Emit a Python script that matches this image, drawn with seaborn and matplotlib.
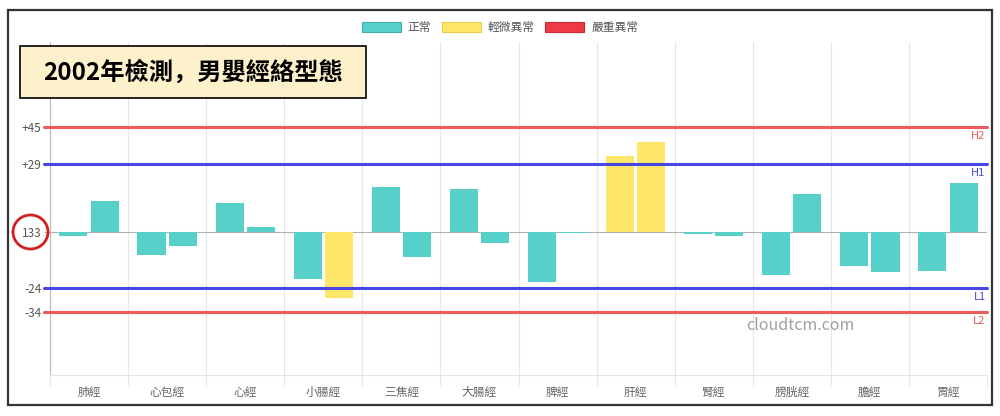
import matplotlib
matplotlib.use("Agg")
import matplotlib.pyplot as plt
from matplotlib.patches import Rectangle, Ellipse, Patch
import matplotlib.transforms as mtransforms
import numpy as np
import pandas as pd
import seaborn as sns

sns.set_theme(style="white")
plt.rcParams["font.family"] = ["Noto Sans CJK TC", "DejaVu Sans"]

# relative to the baseline value 133
meridians = ["肺經", "心包經", "心經", "小腸經", "三焦經", "大腸經",
             "脾經", "肝經", "腎經", "膀胱經", "膽經", "胃經"]
left_vals = [-1.7, -9.8, 12.2, -20.1, 19.1, 18.2, -21.5, 32.5, -0.7, -18.2, -14.7, -16.5]
right_vals = [13.2, -6.0, 2.3, -28.4, -10.6, -4.9, -0.6, 38.4, -1.7, 16.1, -17.1, 20.8]

baseline = 133
limits = {"H2": 45, "H1": 29, "L1": -24, "L2": -34}
ytick_vals = [45, 29, 0, -24, -34]
ytick_labels = ["+45", "+29", str(baseline), "-24", "-34"]

status_names = ["正常", "輕微異常", "嚴重異常"]
status_colors = ["#56d0c8", "#fee768", "#ee3a45"]
status_edges = ["#3fb3ab", "#e8cc50", "#c82a33"]
RED_LINE = "#ee5a5a"
BLUE_LINE = "#4646e4"


def status_of(v):
    if v > limits["H2"] or v < limits["L2"]:
        return 2
    if v > limits["H1"] or v < limits["L1"]:
        return 1
    return 0


df = pd.DataFrame({
    "meridian": meridians * 2,
    "side": ["左"] * len(meridians) + ["右"] * len(meridians),
    "value": left_vals + right_vals,
})

fig = plt.figure(figsize=(10, 4.16), dpi=100)
ax = fig.add_axes([0.05, 0.0986, 0.937, 0.8005])

sns.barplot(data=df, x="meridian", y="value", hue="side", order=meridians,
            hue_order=["左", "右"], dodge=True, width=0.8, gap=0.1,
            errorbar=None, legend=False, ax=ax, zorder=3)

for container, vals in zip(ax.containers, [left_vals, right_vals]):
    for bar, v in zip(container, vals):
        bar.set_facecolor(status_colors[status_of(v)])
        bar.set_edgecolor("none")

ax.set_xlim(-0.5, len(meridians) - 0.5)
ax.set_ylim(-61.1, 81.2)
ax.set_xlabel("")
ax.set_ylabel("")

# vertical grid on category boundaries
ax.set_xticks(np.arange(-0.5, len(meridians), 1), minor=True)
ax.grid(which="minor", axis="x", color="#e6e6e6", lw=0.8, zorder=0)
ax.tick_params(axis="x", which="minor", length=8, color="#e6e6e6", width=0.8, bottom=True)
ax.tick_params(axis="x", which="major", length=0, pad=8, labelsize=8.5, labelcolor="#666666")

ax.set_yticks(ytick_vals)
ax.set_yticklabels(ytick_labels)
ax.tick_params(axis="y", length=4, width=0.8, color="#aaaaaa", left=True,
               pad=2, labelsize=8.5, labelcolor="#555555")

for s in ["top", "right"]:
    ax.spines[s].set_visible(False)
ax.spines["left"].set_color("#bbbbbb")
ax.spines["left"].set_linewidth(0.8)
ax.spines["bottom"].set_color("#e6e6e6")
ax.spines["bottom"].set_linewidth(0.8)

# baseline and limit lines
ax.axhline(0, color="#b0b0b0", lw=0.8, zorder=2)
trans = mtransforms.blended_transform_factory(ax.transAxes, ax.transData)
for name, val in limits.items():
    col = RED_LINE if name in ("H2", "L2") else BLUE_LINE
    ax.axhline(val, xmin=-0.006, xmax=1.0, color=col, lw=2.2, zorder=4, clip_on=False)
    ax.text(0.9985, val - 1.8, name, transform=trans, ha="right", va="top",
            fontsize=8, color=col, zorder=5)

# red circle around the baseline label
fig.add_artist(Ellipse((30.5 / 1000, 1 - 232 / 416), 35 / 1000, 34 / 416,
                       transform=fig.transFigure, fill=False,
                       edgecolor="#d41f1f", lw=2))

# title box
fig.add_artist(Rectangle((20 / 1000, 1 - 98 / 416), 346 / 1000, 52 / 416,
                         transform=fig.transFigure, facecolor="#fdf1cc",
                         edgecolor="black", lw=1.2, zorder=6))
fig.text(193 / 1000, 1 - 73 / 416, "2002年檢測，男嬰經絡型態", ha="center",
         va="center", fontsize=17.5, fontweight="bold", color="black", zorder=7,
         family=["Noto Sans CJK SC", "DejaVu Sans"])

# legend
handles = [Patch(facecolor=c, edgecolor=e, lw=0.8) for c, e in zip(status_colors, status_edges)]
fig.legend(handles, status_names, loc="center", bbox_to_anchor=(0.5, 1 - 27.5 / 416),
           ncol=3, frameon=False, fontsize=8.5, handlelength=3.3, handleheight=0.95,
           handletextpad=0.6, columnspacing=0.9, labelcolor="#555555")

# watermark
fig.text(800 / 1000, 1 - 326 / 416, "cloudtcm.com", ha="center", va="center",
         fontsize=11.5, color="#a0a0a0")

# outer frame
fig.add_artist(Rectangle((8 / 1000, 1 - 405 / 416), 984 / 1000, 395 / 416,
                         transform=fig.transFigure, fill=False,
                         edgecolor="#333333", lw=1.6))

fig.savefig("out.png", dpi=100)
plt.close(fig)
